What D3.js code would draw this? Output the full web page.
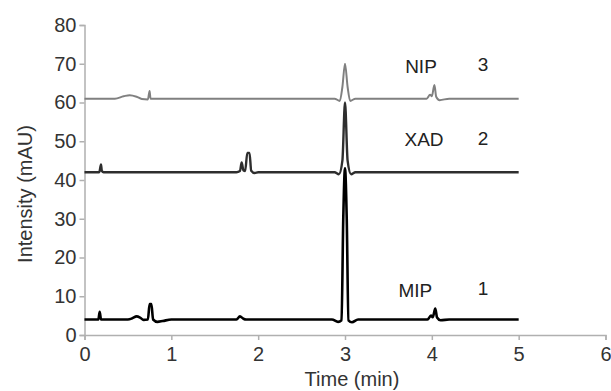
<!DOCTYPE html>
<html><head><meta charset="utf-8">
<script src="https://cdn.jsdelivr.net/npm/d3@7"></script>
<style>body{margin:0;background:#fff;}svg{display:block;font-family:"Liberation Sans",Arial,sans-serif;}</style>
</head><body>
<svg id="c" width="611" height="391"></svg>
<script>
const xTicks = [0,1,2,3,4,5,6];
const yTicks = [0,10,20,30,40,50,60,70,80];
const mip = [[0,4],[0.16,4],[0.175,6],[0.19,4],[0.5,4],[0.55,4.3],[0.6,4.8],[0.64,4.5],[0.68,3.9],[0.73,4],[0.75,8],[0.77,8],[0.79,4],[0.84,3.4],[0.9,3.6],[1,4],[1.75,4],[1.79,4.8],[1.83,4.2],[1.86,4],[2.85,4],[2.92,3.4],[2.96,3.8],[2.98,30],[3.0,43],[3.02,30],[3.04,3.8],[3.08,3.3],[3.15,4],[3.95,4],[3.99,5],[4.01,4.6],[4.04,6.8],[4.06,4.5],[4.1,3.8],[4.2,4],[5,4]];
const xad = [[0,42],[0.17,42],[0.19,44],[0.2,42.3],[0.22,42],[1.75,42],[1.79,42.3],[1.81,44.5],[1.83,42.5],[1.85,42.3],[1.875,47],[1.9,47],[1.92,42.4],[1.96,41.8],[2.0,42],[2.88,42],[2.93,41.5],[2.97,45],[3.0,60],[3.03,45],[3.07,41.5],[3.12,42],[5,42]];
const nip = [[0,61],[0.35,61],[0.45,61.6],[0.52,61.9],[0.6,61.5],[0.66,60.9],[0.73,60.8],[0.75,63],[0.76,61],[0.78,61],[2.88,61],[2.94,60.4],[2.97,64],[3.0,70],[3.03,64],[3.06,60.4],[3.12,61],[3.94,61],[3.98,62],[4.0,61.6],[4.03,64.5],[4.05,61.5],[4.09,60.6],[4.2,61],[5,61]];
const seriesNames = ["MIP","XAD","NIP"];
const seriesNums = ["1","2","3"];
const labelPos = [[3.81,9.8,4.59,10.3],[3.91,48.8,4.59,49.0],[3.875,67.6,4.59,68.1]];

const svg = d3.select("#c");
const x = d3.scaleLinear().domain([0,6]).range([84.5,605.5]);
const y = d3.scaleLinear().domain([0,80]).range([335,25]);

const xa = svg.append("g").attr("transform","translate(0,335)")
  .call(d3.axisBottom(x).tickValues(xTicks).tickSize(5).tickPadding(7).tickFormat(d3.format("d")));
const ya = svg.append("g").attr("transform","translate(84.5,0)")
  .call(d3.axisLeft(y).tickValues(yTicks).tickSize(5).tickPadding(3).tickFormat(d3.format("d")));
[xa,ya].forEach(a=>{
  a.select(".domain").attr("stroke","#b0b0b0").attr("stroke-width",1.5);
  a.selectAll(".tick line").attr("stroke","#b0b0b0").attr("stroke-width",1.5);
  a.selectAll(".tick text").attr("fill","#333").style("font-size","20px");
});

const line = d3.line().x(d=>x(d[0])).y(d=>y(d[1])).curve(d3.curveMonotoneX);
const data = [mip,xad,nip];
const colors = ["#000","#2e2e2e","#808080"];
const widths = [2.6,2.4,2];
data.forEach((s,i)=>{
  svg.append("path").attr("d",line(s)).attr("fill","none")
    .attr("stroke",colors[i]).attr("stroke-width",widths[i]).attr("stroke-linejoin","round");
});
seriesNames.forEach((n,i)=>{
  const p = labelPos[i];
  svg.append("text").attr("x",x(p[0])).attr("y",y(p[1])).attr("text-anchor","middle")
    .attr("fill","#222").style("font-size","19px").text(n);
  svg.append("text").attr("x",x(p[2])).attr("y",y(p[3])).attr("text-anchor","middle")
    .attr("fill","#222").style("font-size","19px").text(seriesNums[i]);
});
svg.append("text").attr("x",352).attr("y",386).attr("text-anchor","middle")
  .attr("fill","#333").style("font-size","20px").text("Time (min)");
svg.append("text").attr("transform","translate(32,194) rotate(-90)").attr("text-anchor","middle")
  .attr("fill","#333").style("font-size","20px").text("Intensity (mAU)");
</script>
</body></html>
